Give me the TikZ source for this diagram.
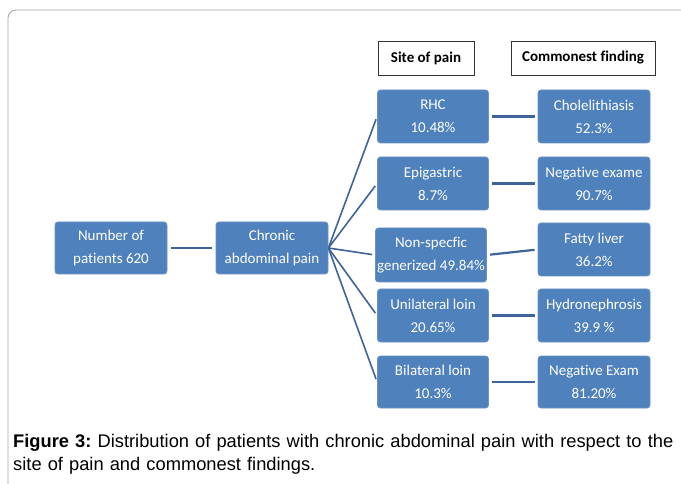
\documentclass[tikz,border=0pt]{standalone}
\usepackage{fontspec}
\setmainfont{Carlito}[Ligatures=NoCommon]
\newfontfamily\capfont{Liberation Sans}
\frenchspacing
\begin{document}
\begin{tikzpicture}[x=1pt,y=-1pt,
  bluebox/.style={draw=boxedge,fill=boxblue,rounded corners=3pt,line width=0.8pt,
    text=white,align=center,font=\fontsize{15}{23}\selectfont,inner sep=0pt},
  headbox/.style={draw=black!80,fill=white,line width=0.7pt,align=center,
    font=\bfseries\fontsize{15}{18}\selectfont,inner sep=0pt},
  conn/.style={draw=lineblue,line width=2.2pt}]
\definecolor{boxblue}{HTML}{4F81BD}
\definecolor{boxedge}{HTML}{6A93C6}
\definecolor{lineblue}{HTML}{3F649A}
\useasboundingbox (0,0) rectangle (681,484);
\fill[white] (0,0) rectangle (681,484);
\draw[gray!70,line width=0.8pt,rounded corners=8pt] (8,490) -- (8,10) -- (695,10);
% headers
\node[headbox,minimum width=96pt,minimum height=34pt] (hsite) at (426,58) {Site of pain};
\node[headbox,minimum width=144pt,minimum height=34pt] (hfind) at (583,58) {Commonest finding};
% left boxes
\node[bluebox,minimum width=112pt,minimum height=52pt] (num) at (111,248) {Number of\\patients 620};
\node[bluebox,minimum width=112pt,minimum height=52pt] (chr) at (272,248) {Chronic\\abdominal pain};
% site boxes
\node[bluebox,minimum width=111pt,minimum height=53pt] (s1) at (433,116.5) {RHC\\10.48\%};
\node[bluebox,minimum width=111pt,minimum height=53pt] (s2) at (433,183.5) {Epigastric\\8.7\%};
\node[bluebox,minimum width=111pt,minimum height=54pt] (s3) at (431,255) {Non-specfic\\generized 49.84\%};
\node[bluebox,minimum width=111pt,minimum height=53pt] (s4) at (433,315.5) {Unilateral loin\\20.65\%};
\node[bluebox,minimum width=111pt,minimum height=52pt] (s5) at (433,382) {Bilateral loin\\10.3\%};
% finding boxes
\node[bluebox,minimum width=112pt,minimum height=53pt] (f1) at (594,116.5) {Cholelithiasis\\52.3\%};
\node[bluebox,minimum width=112pt,minimum height=53pt] (f2) at (594,183.5) {Negative exame\\90.7\%};
\node[bluebox,minimum width=112pt,minimum height=53pt] (f3) at (594,249.5) {Fatty liver\\36.2\%};
\node[bluebox,minimum width=112pt,minimum height=53pt] (f4) at (594,315.5) {Hydronephrosis\\39.9 \%};
\node[bluebox,minimum width=112pt,minimum height=52pt] (f5) at (594,382) {Negative Exam\\81.20\%};
% connectors
\draw[conn,shorten <=4pt,shorten >=4pt] (num.east) -- (chr.east -| chr.west);
\foreach \s in {s1,s2,s3,s4,s5}{
  \draw[conn,line width=1.6pt,shorten >=3pt] (chr.east) -- (\s.west);
}
\foreach \a/\b in {s1/f1,s2/f2,s3/f3,s4/f4,s5/f5}{
  \draw[conn,shorten <=3pt,shorten >=3pt] (\a.east) -- (\b.west);
}
% caption
\node[anchor=north west,align=left,inner sep=0pt,font=\capfont\fontsize{18.3}{23}\selectfont,text width=675pt] (cap) at (13,434)
  {\textbf{Figure 3:} Distribution of patients with chronic abdominal pain with respect to the\\site of pain and commonest findings.};
\end{tikzpicture}
\end{document}
